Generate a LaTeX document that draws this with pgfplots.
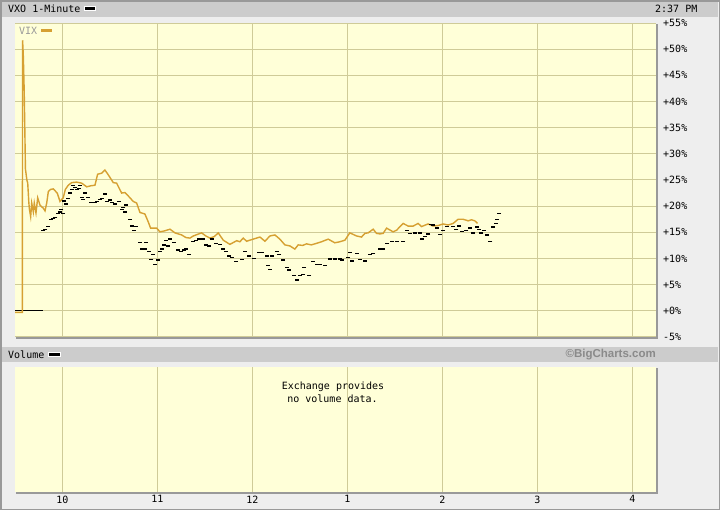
\documentclass[border=0pt]{standalone}
\usepackage{pgfplots}
\pgfplotsset{compat=1.18}
\usepackage{pgfplotstable}
\usepackage{fontspec}
\setmainfont{DejaVu Sans Mono}
\newfontfamily\bcfont{Liberation Sans}
\definecolor{outerbg}{HTML}{EEEEEE}
\definecolor{barbg}{HTML}{CCCCCC}
\definecolor{plotbg}{HTML}{FFFFD8}
\definecolor{gridc}{HTML}{CFCB98}
\definecolor{vixgold}{HTML}{D6A032}
\definecolor{bordc}{HTML}{999999}

\pgfplotstableread{
t v
9.500 -0.3
9.577 -0.3
9.580 51.7
9.588 48.5
9.597 42.0
9.610 27.1
9.625 25.0
9.634 24.4
9.645 20.9
9.651 19.5
9.665 18.0
9.676 20.6
9.693 18.9
9.703 20.6
9.721 18.7
9.739 21.6
9.763 20.2
9.798 19.6
9.816 19.1
9.834 20.6
9.851 22.8
9.875 23.2
9.903 23.3
9.945 22.5
9.974 20.9
10.008 21.6
10.030 23.2
10.061 24.0
10.097 24.5
10.149 24.6
10.202 24.4
10.255 23.7
10.300 23.9
10.342 24.0
10.370 26.1
10.413 26.3
10.447 26.9
10.482 26.0
10.535 24.5
10.570 24.4
10.623 22.5
10.658 22.6
10.711 21.6
10.745 20.9
10.781 20.6
10.816 18.8
10.868 18.5
10.903 17.0
10.928 15.8
10.992 15.8
11.026 15.1
11.080 15.3
11.132 15.6
11.184 14.9
11.255 14.5
11.300 14.0
11.342 13.9
11.377 14.3
11.420 14.6
11.465 14.9
11.510 14.3
11.553 13.9
11.600 14.2
11.640 14.9
11.693 13.5
11.763 12.7
11.834 13.4
11.868 13.2
11.903 13.9
11.939 13.3
12.008 13.7
12.079 14.1
12.132 13.3
12.184 14.3
12.237 14.5
12.289 13.7
12.342 12.6
12.395 12.4
12.447 11.8
12.482 12.6
12.530 12.5
12.570 12.8
12.620 12.6
12.676 12.9
12.728 13.2
12.798 13.7
12.868 13.0
12.921 13.2
12.974 13.5
13.026 14.9
13.097 14.3
13.149 14.1
13.184 14.8
13.219 14.9
13.272 15.6
13.307 14.8
13.342 14.7
13.377 14.8
13.413 15.8
13.482 15.1
13.518 15.4
13.587 16.7
13.640 16.2
13.693 16.2
13.745 16.7
13.781 16.1
13.850 16.6
13.903 16.2
13.956 16.3
14.008 16.6
14.061 16.4
14.114 16.7
14.166 17.5
14.219 17.5
14.272 17.2
14.307 17.4
14.342 17.2
14.370 16.7
}\vixdata

\pgfplotstableread{
t v
9.800 15.3
9.821 15.6
9.844 16.1
9.874 17.5
9.905 17.7
9.926 17.9
9.953 18.6
9.974 18.9
9.989 19.3
10.008 18.6
10.016 21.0
10.037 20.4
10.058 21.5
10.079 22.5
10.100 23.2
10.111 24.0
10.132 23.6
10.153 23.2
10.174 23.4
10.184 23.9
10.208 21.6
10.216 21.3
10.237 22.5
10.268 21.6
10.305 20.7
10.342 20.7
10.363 20.9
10.395 21.3
10.416 21.5
10.447 22.3
10.468 20.9
10.500 21.2
10.521 20.7
10.553 20.4
10.595 20.9
10.626 19.4
10.642 19.8
10.658 18.9
10.668 20.2
10.711 17.5
10.732 16.2
10.753 15.4
10.774 16.1
10.816 13.0
10.837 11.8
10.868 11.8
10.879 13.1
10.911 11.4
10.937 9.8
10.953 10.7
10.974 8.9
11.005 9.7
11.026 11.3
11.047 11.8
11.068 12.6
11.089 13.4
11.111 12.4
11.132 13.7
11.174 13.1
11.216 11.6
11.247 11.3
11.279 11.6
11.300 11.8
11.332 10.8
11.374 13.2
11.405 13.4
11.437 13.7
11.479 13.7
11.511 12.6
11.542 12.4
11.574 13.7
11.616 12.9
11.658 12.7
11.689 11.8
11.721 11.4
11.753 10.5
11.784 10.2
11.826 9.4
11.886 9.8
11.921 11.3
11.966 10.5
12.016 10.0
12.072 11.1
12.097 11.1
12.149 10.5
12.160 8.6
12.180 7.9
12.202 10.5
12.254 11.3
12.282 10.7
12.317 9.7
12.360 8.3
12.384 7.8
12.440 6.7
12.472 5.9
12.500 6.7
12.535 7.0
12.545 8.3
12.598 6.8
12.633 9.4
12.676 8.8
12.711 8.8
12.763 8.6
12.816 9.9
12.868 9.9
12.921 9.9
12.939 9.7
13.008 10.2
13.026 11.1
13.044 9.5
13.097 10.9
13.132 9.8
13.184 9.5
13.237 10.7
13.272 10.9
13.342 11.8
13.377 11.8
13.413 12.9
13.465 13.2
13.518 13.2
13.587 13.2
13.623 15.3
13.658 14.8
13.711 14.9
13.763 14.9
13.781 13.7
13.816 14.2
13.851 14.7
13.876 16.5
13.903 16.4
13.939 15.8
13.974 14.6
14.008 15.3
14.044 16.1
14.114 16.1
14.149 15.6
14.177 16.2
14.202 15.1
14.254 15.3
14.289 15.8
14.324 14.9
14.360 16.0
14.384 15.6
14.412 14.9
14.437 15.3
14.472 14.5
14.507 13.3
14.535 16.0
14.560 16.7
14.574 17.4
14.598 18.6
}\vxodata

\begin{document}
\begin{tikzpicture}
\useasboundingbox (0,0) rectangle (720bp,-510bp);
\fill[outerbg] (0,0) rectangle (720bp,-510bp);
\draw[bordc, line width=1.5bp] (0.75bp,-0.75bp) rectangle (719.25bp,-509.25bp);
\fill[barbg] (2bp,-2bp) rectangle (718bp,-17bp);
\fill[barbg] (2bp,-347bp) rectangle (718bp,-362bp);

% plot frames (bevel: white top/left, gray bottom/right)
\fill[bordc] (16bp,-24bp) rectangle (657.5bp,-338.5bp);
\fill[white] (14.5bp,-22.5bp) rectangle (656bp,-337bp);
\fill[bordc] (16bp,-368bp) rectangle (657.5bp,-493.5bp);
\fill[white] (14.5bp,-366.5bp) rectangle (656bp,-492bp);

% header texts
\node[anchor=west, inner sep=0pt, font=\fontsize{10bp}{12bp}\selectfont] at (8bp,-8.8bp) {VXO 1-Minute};
\fill[white] (84bp,-5.7bp) rectangle (95.7bp,-11bp);
\fill[black] (85bp,-6.8bp) rectangle (94.7bp,-10bp);
\node[anchor=east, inner sep=0pt, font=\fontsize{10bp}{12bp}\selectfont] at (697.5bp,-8.8bp) {2:37 PM};

\node[anchor=west, inner sep=0pt, font=\fontsize{10bp}{12bp}\selectfont] at (8bp,-355bp) {Volume};
\fill[white] (48.3bp,-351.8bp) rectangle (61bp,-357.2bp);
\fill[black] (49.3bp,-352.8bp) rectangle (60bp,-356.2bp);
\node[anchor=east, inner sep=0pt, text=bordc!90!black, font=\bcfont\bfseries\fontsize{11.5bp}{13bp}\selectfont] at (656bp,-354.8bp) {\textcopyright BigCharts.com};

% main panel
\begin{axis}[
  at={(15bp,-23bp)}, anchor=north west,
  scale only axis, width=641bp, height=314bp,
  xmin=9.5, xmax=16.25, ymin=-5, ymax=55,
  axis background/.style={fill=plotbg},
  axis line style={draw=none},
  xtick={10,11,12,13,14,15,16}, xticklabels={},
  ytick={-5,0,5,10,15,20,25,30,35,40,45,50,55},
  yticklabels={-5\%,+0\%,+5\%,+10\%,+15\%,+20\%,+25\%,+30\%,+35\%,+40\%,+45\%,+50\%,+55\%},
  yticklabel pos=right,
  yticklabel style={anchor=west, inner sep=0pt, xshift=7bp, font=\fontsize{10bp}{12bp}\selectfont},
  major tick length=0pt,
  tick style={draw=none},
  grid=major, major grid style={gridc, line width=1bp},
  clip=false,
]
\addplot[black, line width=1.2bp] coordinates {(9.5,0.1) (9.792,0.1)};
\addplot[vixgold, line width=1.4bp] table[x=t, y=v] {\vixdata};
\addplot[only marks, mark=-, mark size=2bp, mark options={line width=1.3bp, black}] table[x=t, y=v] {\vxodata};
\node[anchor=west, inner sep=0pt, text=bordc, font=\fontsize{10bp}{12bp}\selectfont] at ([xshift=4bp, yshift=-8bp]rel axis cs:0,1) {VIX};
\fill[vixgold] ([xshift=26bp, yshift=-6.3bp]rel axis cs:0,1) rectangle ([xshift=37bp, yshift=-8.7bp]rel axis cs:0,1);
\end{axis}

% volume panel
\begin{axis}[
  at={(15bp,-367bp)}, anchor=north west,
  scale only axis, width=641bp, height=125bp,
  xmin=9.5, xmax=16.25, ymin=0, ymax=1,
  axis background/.style={fill=plotbg},
  axis line style={draw=none},
  xtick={10,11,12,13,14,15,16}, xticklabels={10,11,12,1,2,3,4},
  xticklabel style={anchor=north, inner sep=0pt, yshift=-3.5bp, font=\fontsize{10bp}{12bp}\selectfont},
  ytick=\empty,
  major tick length=0pt,
  tick style={draw=none},
  xmajorgrids, major grid style={gridc, line width=1bp},
  clip=false,
]
\end{axis}
\node[inner sep=0pt, font=\fontsize{10bp}{12bp}\selectfont] at (333bp,-386.5bp) {Exchange provides};
\node[inner sep=0pt, font=\fontsize{10bp}{12bp}\selectfont] at (332.5bp,-398.5bp) {no volume data.};
\end{tikzpicture}
\end{document}
